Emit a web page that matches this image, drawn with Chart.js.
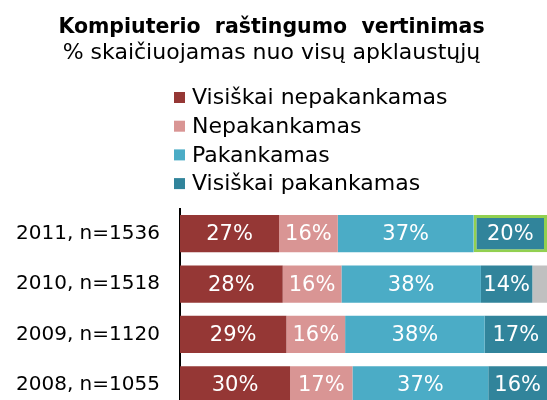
<!DOCTYPE html>
<html>
<head>
<meta charset="utf-8">
<script src="https://cdn.jsdelivr.net/npm/chart.js@4.4.1/dist/chart.umd.min.js"></script>
<style>
  html, body { margin: 0; padding: 0; background: #fff; overflow: hidden; }
  #wrap { width: 547px; height: 400px; overflow: hidden; }
</style>
</head>
<body>
<div id="wrap"><canvas id="c" width="549" height="442"></canvas></div>
<script>
const titleText = 'Kompiuterio  raštingumo  vertinimas';
const subtitleText = '% skaičiuojamas nuo visų apklaustųjų';
const categories = ['2011, n=1536', '2010, n=1518', '2009, n=1120', '2008, n=1055'];
const seriesNames = ['Visiškai nepakankamas', 'Nepakankamas', 'Pakankamas', 'Visiškai pakankamas'];
const visiskaiNepakankamas = [27, 28, 29, 30];
const nepakankamas = [16, 16, 16, 17];
const pakankamas = [37, 38, 38, 37];
const visiskaiPakankamas = [20, 14, 17, 16];
const kita = [0, 4, 0, 0];
const colors = ['#953735', '#D99594', '#4BACC6', '#31849B'];
const FONT = "'DejaVu Sans', Verdana, sans-serif";

const valueLabels = {
  id: 'valueLabels',
  afterDatasetsDraw(chart) {
    const ctx = chart.ctx;
    ctx.save();
    ctx.font = '21px ' + FONT;
    ctx.fillStyle = '#ffffff';
    ctx.textAlign = 'center';
    ctx.textBaseline = 'middle';
    chart.data.datasets.forEach((ds, i) => {
      if (i > 3) return;
      const meta = chart.getDatasetMeta(i);
      meta.data.forEach((el, j) => {
        const v = ds.data[j];
        if (!v) return;
        ctx.fillText(v + '%', (el.x + el.base) / 2, el.y + 1);
      });
    });
    ctx.restore();
  }
};

// vertical legend list (one entry per row), drawn from the datasets
const listLegend = {
  id: 'listLegend',
  afterDraw(chart) {
    const ctx = chart.ctx;
    ctx.save();
    ctx.font = '22px ' + FONT;
    ctx.textAlign = 'left';
    ctx.textBaseline = 'middle';
    chart.data.datasets.slice(0, 4).forEach((ds, i) => {
      const cy = 97.5 + i * 28.7;
      ctx.fillStyle = ds.backgroundColor;
      ctx.fillRect(174, cy - 5.5, 11, 11);
      ctx.fillStyle = '#000';
      ctx.fillText(ds.label, 192, cy + 1);
    });
    ctx.restore();
  }
};

new Chart(document.getElementById('c'), {
  type: 'bar',
  data: {
    labels: categories,
    datasets: [
      { label: seriesNames[0], data: visiskaiNepakankamas, backgroundColor: colors[0] },
      { label: seriesNames[1], data: nepakankamas, backgroundColor: colors[1] },
      { label: seriesNames[2], data: pakankamas, backgroundColor: colors[2] },
      { label: seriesNames[3], data: visiskaiPakankamas, backgroundColor: colors[3],
        borderColor: ['#92D050', colors[3], colors[3], colors[3]],
        borderWidth: [3, 0, 0, 0], borderSkipped: false },
      { label: 'Kita', data: kita, backgroundColor: '#C0C0C0' }
    ]
  },
  options: {
    indexAxis: 'y',
    responsive: false,
    animation: false,
    devicePixelRatio: 1,
    datasets: { bar: { barPercentage: 0.74, categoryPercentage: 1 } },
    layout: { padding: { left: -4, right: 2, top: 0, bottom: 1.5 } },
    scales: {
      x: {
        stacked: true, min: 0, max: 100, display: false
      },
      y: {
        stacked: true,
        grid: { display: false, drawTicks: false },
        border: { display: true, color: '#000', width: 2 },
        ticks: { color: '#000', padding: 20, font: { family: FONT, size: 20 } }
      }
    },
    plugins: {
      title: {
        display: true, text: titleText, color: '#000',
        font: { family: FONT, size: 20.5, weight: 'bold' },
        padding: { top: 15, bottom: 0 }
      },
      subtitle: {
        display: true, text: subtitleText, color: '#000',
        font: { family: FONT, size: 22 },
        padding: { top: 0, bottom: 142.5 }
      },
      legend: { display: false },
      tooltip: { enabled: false }
    }
  },
  plugins: [valueLabels, listLegend]
});
</script>
</body>
</html>
